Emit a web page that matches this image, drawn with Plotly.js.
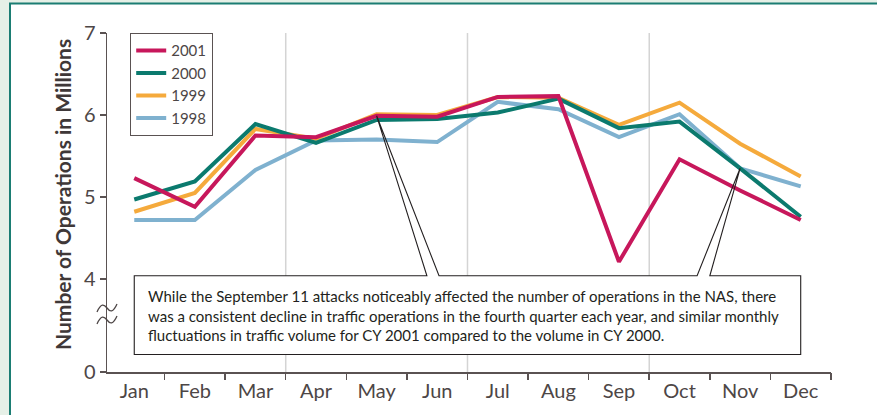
<!DOCTYPE html>
<html>
<head>
<meta charset="utf-8">
<script src="https://cdn.plot.ly/plotly-3.0.1.min.js"></script>
<style>html,body{margin:0;padding:0;background:#e6f0e7;}#chart{width:877px;height:415px;}</style>
</head>
<body>
<div id="chart"></div>
<script>
// ---- data (millions of operations) ----
const months = ['Jan','Feb','Mar','Apr','May','Jun','Jul','Aug','Sep','Oct','Nov','Dec'];
const y2001 = [5.23, 4.88, 5.75, 5.73, 5.99, 5.98, 6.22, 6.23, 4.21, 5.46, 5.08, 4.72];
const y2000 = [4.97, 5.19, 5.89, 5.66, 5.94, 5.95, 6.03, 6.20, 5.84, 5.92, 5.35, 4.76];
const y1999 = [4.82, 5.05, 5.83, 5.71, 6.01, 6.00, 6.22, 6.21, 5.88, 6.15, 5.65, 5.25];
const y1998 = [4.72, 4.72, 5.33, 5.69, 5.70, 5.67, 6.16, 6.07, 5.73, 6.01, 5.35, 5.13];
const yTickVals = [2.866, 4, 5, 6, 7];   // 0 sits below the axis break
const yTickText = ['0', '4', '5', '6', '7'];
const note = 'While the September 11 attacks noticeably affected the number of operations in the NAS, there<br>' +
             'was a consistent decline in traffic operations in the fourth quarter each year, and similar monthly<br>' +
             'fluctuations in traffic volume for CY 2001 compared to the volume in CY 2000.';

const idx = months.map((m, i) => i);
const txt = '#4d4646';
const FONT = 'Lato, "Open Sans", sans-serif';
function tr(name, y, color) {
  return {x: idx, y: y, name: name, type: 'scatter', mode: 'lines',
          line: {color: color, width: 4}, hoverinfo: 'skip'};
}
const data = [
  tr('1998', y1998, '#7fb1cf'),
  tr('1999', y1999, '#f5aa3c'),
  tr('2000', y2000, '#0b7a6e'),
  tr('2001', y2001, '#c7175b'),
  {x: [0, 11], y: [null, null], xaxis: 'x2', yaxis: 'y', showlegend: false, type: 'scatter', mode: 'lines', hoverinfo: 'skip'}
];

// pixel -> paper helpers for decorations
const PX = p => (p - 107) / 724;
const PY = p => (372 - p) / 339;
function tildePath(cx, cy) {
  const pts = [[-10, 4], [-6, -5], [-3, -4], [0, 0], [3, 4], [6, 5], [10, -4]];
  const p = pts.map(([dx, dy]) => [PX(cx + dx).toFixed(5), PY(cy + dy).toFixed(5)]);
  return `M ${p[0][0]},${p[0][1]} C ${p[1][0]},${p[1][1]} ${p[2][0]},${p[2][1]} ${p[3][0]},${p[3][1]} ` +
         `C ${p[4][0]},${p[4][1]} ${p[5][0]},${p[5][1]} ${p[6][0]},${p[6][1]}`;
}

const callout = 'M 0,4.04 L 4.83,4.04 L 4,5.99 L 5.03,4.04 L 9.29,4.04 L 10,5.35 L 9.5,4.04 L 11,4.04 L 11,3.08 L 0,3.08 Z';
const shapes = [
  {type: 'rect', xref: 'paper', yref: 'paper', x0: PX(10), x1: 2, y0: -1, y1: PY(3.5),
   fillcolor: '#ffffff', line: {color: '#1b7d73', width: 2}, layer: 'below'},
  ...[2.5, 5.5, 8.5].map(v => ({type: 'line', xref: 'x', yref: 'y', x0: v, x1: v, y0: 2.866, y1: 7,
     line: {color: '#d4d4d4', width: 1.5}, layer: 'below'})),
  {type: 'path', xref: 'x', yref: 'y', path: callout, fillcolor: '#ffffff', line: {width: 0}, layer: 'below'},
  {type: 'path', xref: 'x', yref: 'y', path: callout, fillcolor: 'rgba(0,0,0,0)', line: {color: '#231f20', width: 1.1}, layer: 'above'},
  ...[308, 320].map(cy => ({type: 'path', xref: 'paper', yref: 'paper', path: tildePath(107, cy),
     line: {color: '#4d4646', width: 1.3}, fillcolor: 'rgba(0,0,0,0)', layer: 'above'}))
];

const layout = {
  width: 877, height: 415,
  margin: {l: 107, r: 46, t: 33, b: 43},
  paper_bgcolor: '#e6f0e7', plot_bgcolor: 'rgba(0,0,0,0)',
  font: {family: FONT, color: txt},
  showlegend: true,
  legend: {x: 23 / 724, y: 1, xanchor: 'left', yanchor: 'top', traceorder: 'reversed',
           bgcolor: '#ffffff', bordercolor: '#5a5252', borderwidth: 1.2,
           font: {size: 15, color: txt}},
  xaxis: {range: [-0.45, 11.5], tickvals: idx, ticktext: months, ticks: '', showgrid: false, zeroline: false,
          showline: true, linecolor: '#5a5252', linewidth: 1.5, tickfont: {size: 20, color: txt}, fixedrange: true},
  xaxis2: {overlaying: 'x', side: 'bottom', range: [-0.45, 11.5], tickvals: [0.5,1.5,2.5,3.5,4.5,5.5,6.5,7.5,8.5,9.5,10.5,11.5],
           showticklabels: false, ticks: 'outside', ticklen: 7, tickwidth: 1.5, tickcolor: '#5a5252',
           showgrid: false, zeroline: false, showline: false, anchor: 'y'},
  yaxis: {range: [2.866, 7], tickvals: yTickVals, ticktext: yTickText, ticks: 'outside', ticklen: 6, tickwidth: 1.5,
          tickcolor: '#5a5252', showgrid: false, zeroline: false, showline: true, linecolor: '#5a5252', linewidth: 1.5,
          tickfont: {size: 20, color: txt}, fixedrange: true},
  shapes: shapes,
  annotations: [
    {xref: 'paper', yref: 'paper', x: PX(62), y: PY(195), xanchor: 'center', yanchor: 'middle',
     text: '<b>Number of Operations in Millions</b>', textangle: -90, showarrow: false,
     font: {size: 21, color: '#3f3838', family: FONT}},
    {xref: 'x', yref: 'y', x: 0.194, y: 3.561, xanchor: 'left', yanchor: 'middle', align: 'left',
     text: note, showarrow: false, font: {size: 15, color: '#231f20', family: FONT}}
  ]
};

Plotly.newPlot('chart', data, layout, {displayModeBar: false, staticPlot: true});
</script>
</body>
</html>
